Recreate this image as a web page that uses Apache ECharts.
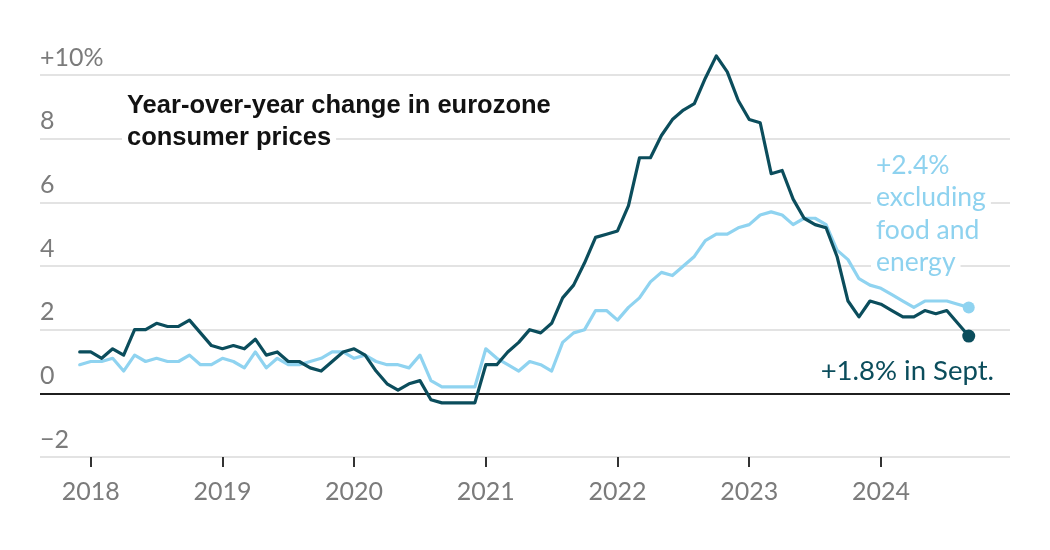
<!DOCTYPE html>
<html>
<head>
<meta charset="utf-8">
<script src="https://cdn.jsdelivr.net/npm/echarts@6/dist/echarts.min.js"></script>
<style>
html,body{margin:0;padding:0;background:#fff;}
#chart{width:1050px;height:550px;}
</style>
</head>
<body>
<div id="chart"></div>
<script>
// ---- data ----
const months = [
  '2017-12',
  '2018-01','2018-02','2018-03','2018-04','2018-05','2018-06','2018-07','2018-08','2018-09','2018-10','2018-11','2018-12',
  '2019-01','2019-02','2019-03','2019-04','2019-05','2019-06','2019-07','2019-08','2019-09','2019-10','2019-11','2019-12',
  '2020-01','2020-02','2020-03','2020-04','2020-05','2020-06','2020-07','2020-08','2020-09','2020-10','2020-11','2020-12',
  '2021-01','2021-02','2021-03','2021-04','2021-05','2021-06','2021-07','2021-08','2021-09','2021-10','2021-11','2021-12',
  '2022-01','2022-02','2022-03','2022-04','2022-05','2022-06','2022-07','2022-08','2022-09','2022-10','2022-11','2022-12',
  '2023-01','2023-02','2023-03','2023-04','2023-05','2023-06','2023-07','2023-08','2023-09','2023-10','2023-11','2023-12',
  '2024-01','2024-02','2024-03','2024-04','2024-05','2024-06','2024-07','2024-08','2024-09'
];
// All-items year-over-year change (%)
const headline = [
  1.3,
  1.3, 1.1, 1.4, 1.2, 2.0, 2.0, 2.2, 2.1, 2.1, 2.3, 1.9, 1.5,
  1.4, 1.5, 1.4, 1.7, 1.2, 1.3, 1.0, 1.0, 0.8, 0.7, 1.0, 1.3,
  1.4, 1.2, 0.7, 0.3, 0.1, 0.3, 0.4, -0.2, -0.3, -0.3, -0.3, -0.3,
  0.9, 0.9, 1.3, 1.6, 2.0, 1.9, 2.2, 3.0, 3.4, 4.1, 4.9, 5.0,
  5.1, 5.9, 7.4, 7.4, 8.1, 8.6, 8.9, 9.1, 9.9, 10.6, 10.1, 9.2,
  8.6, 8.5, 6.9, 7.0, 6.1, 5.5, 5.3, 5.2, 4.3, 2.9, 2.4, 2.9,
  2.8, 2.6, 2.4, 2.4, 2.6, 2.5, 2.6, 2.2, 1.8
];
// Excluding food and energy (%)
const core = [
  0.9,
  1.0, 1.0, 1.1, 0.7, 1.2, 1.0, 1.1, 1.0, 1.0, 1.2, 0.9, 0.9,
  1.1, 1.0, 0.8, 1.3, 0.8, 1.1, 0.9, 0.9, 1.0, 1.1, 1.3, 1.3,
  1.1, 1.2, 1.0, 0.9, 0.9, 0.8, 1.2, 0.4, 0.2, 0.2, 0.2, 0.2,
  1.4, 1.1, 0.9, 0.7, 1.0, 0.9, 0.7, 1.6, 1.9, 2.0, 2.6, 2.6,
  2.3, 2.7, 3.0, 3.5, 3.8, 3.7, 4.0, 4.3, 4.8, 5.0, 5.0, 5.2,
  5.3, 5.6, 5.7, 5.6, 5.3, 5.5, 5.5, 5.3, 4.5, 4.2, 3.6, 3.4,
  3.3, 3.1, 2.9, 2.7, 2.9, 2.9, 2.9, 2.8, 2.7
];
const yearTicks = [2018, 2019, 2020, 2021, 2022, 2023, 2024];
const yTickLabels = {'-2': '\u22122', '0': '0', '2': '2', '4': '4', '6': '6', '8': '8', '10': '+10%'};
const titleLines = ['Year-over-year change in eurozone', 'consumer prices'];
const coreNote = ['+2.4%', 'excluding', 'food and', 'energy'];
const headNote = '+1.8% in Sept.';

// ---- build ----
const DARK = '#0b4d5c';
const LIGHT = '#8fd3f0';
function toYear(m) { const p = m.split('-').map(Number); return p[0] + (p[1] - 1) / 12; }
const headData = months.map((m, i) => [toYear(m), headline[i]]);
const coreData = months.map((m, i) => [toYear(m), core[i]]);
const last = months.length - 1;

const chart = echarts.init(document.getElementById('chart'), null, {renderer: 'canvas'});

const graphics = [];
titleLines.forEach((t, i) => {
  graphics.push({
    type: 'text', z: 100,
    style: {
      text: t, x: 122, y: 106 + i * 32,
      font: 'bold 25.5px "Liberation Sans", Arial, sans-serif',
      fill: '#121212',
      textAlign: 'left', align: 'left',
      textVerticalAlign: 'middle', verticalAlign: 'middle',
      backgroundColor: '#fff', padding: [3, 5]
    }
  });
});
coreNote.forEach((t, i) => {
  graphics.push({
    type: 'text', z: 100,
    style: {
      text: t, x: 871, y: 165 + i * 32.5,
      font: '26.5px Lato, "Open Sans", sans-serif',
      fill: '#8ed2ef',
      textAlign: 'left', align: 'left',
      textVerticalAlign: 'middle', verticalAlign: 'middle',
      backgroundColor: '#fff', padding: [2, 5]
    }
  });
});
graphics.push({
  type: 'text', z: 100,
  style: {
    text: headNote, x: 994, y: 371,
    font: '27.5px Lato, "Open Sans", sans-serif',
    fill: DARK,
    textAlign: 'right', align: 'right',
    textVerticalAlign: 'middle', verticalAlign: 'middle'
  }
});

chart.setOption({
  animation: false,
  backgroundColor: '#fff',
  grid: {left: 40, right: 40, top: 75, bottom: 93, containLabel: false},
  xAxis: {
    type: 'value',
    min: 2017.615,
    max: 2024.98,
    axisLine: {show: false, onZero: false},
    splitLine: {show: false},
    axisTick: {show: true, length: 10, customValues: yearTicks, lineStyle: {color: '#333', width: 2}},
    axisLabel: {
      show: true, customValues: yearTicks, margin: 22,
      formatter: v => String(Math.round(v)),
      color: '#7b7b7b', fontFamily: 'Lato, "Open Sans", sans-serif', fontSize: 25
    }
  },
  yAxis: {
    type: 'value',
    min: -2, max: 10, interval: 2,
    axisLine: {show: false},
    axisTick: {show: false},
    splitLine: {show: true, lineStyle: {color: '#e3e3e3', width: 2}},
    axisLabel: {
      inside: true, margin: 0, align: 'left', verticalAlign: 'bottom',
      padding: [0, 0, 5, 0],
      showMinLabel: true, showMaxLabel: true,
      formatter: v => yTickLabels[String(v)],
      color: '#7b7b7b', fontFamily: 'Lato, "Open Sans", sans-serif', fontSize: 25
    }
  },
  series: [
    {
      type: 'line', name: 'core', data: coreData, showSymbol: false, z: 3, clip: false,
      lineStyle: {color: LIGHT, width: 3.2, cap: 'round', join: 'round'},
      markLine: {
        silent: true, symbol: ['none', 'none'], label: {show: false},
        lineStyle: {color: '#1f1f1f', width: 2, type: 'solid'},
        data: [{yAxis: 0}], z: 2
      }
    },
    {
      type: 'line', name: 'headline', data: headData, showSymbol: false, z: 4, clip: false,
      lineStyle: {color: DARK, width: 3.2, cap: 'round', join: 'round'}
    },
    {
      type: 'scatter', data: [coreData[last]], symbolSize: 12, z: 5, clip: false,
      itemStyle: {color: LIGHT, opacity: 1}
    },
    {
      type: 'scatter', data: [headData[last]], symbolSize: 13, z: 6, clip: false,
      itemStyle: {color: DARK, opacity: 1}
    }
  ],
  graphic: graphics
});
</script>
</body>
</html>
